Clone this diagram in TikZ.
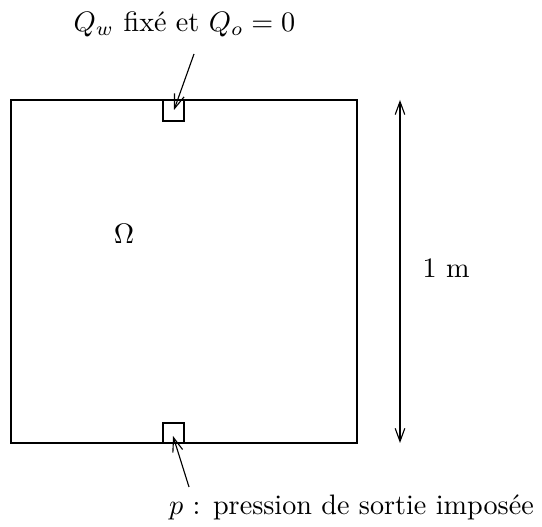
\documentclass[tikz,border=0pt]{standalone}
\usetikzlibrary{arrows.meta}
\begin{document}
\begin{tikzpicture}[x=0.355pt,y=-0.355pt,
  lbl/.style={inner sep=0pt},
  tipshape/.style={},
  ptr/.style={draw,thin,-{Straight Barb[length=5pt,width=3.6pt]}}]
\useasboundingbox (0,0) rectangle (542,527);
\draw[line width=0.7pt] (11,100) rectangle (357,443);
\draw[thin] (163,100) rectangle (184,121);
\draw[thin] (163,423) rectangle (184,443);
\coordinate (wtop) at (174,110);
\coordinate (wbot) at (173,436);
\node[lbl] (qlab) at (184.5,24) {$Q_w$ fixé et $Q_o=0$};
\node[lbl] (plab) at (351.5,507) {$p$ : pression de sortie imposée};
\coordinate (qt) at (194,54);
\coordinate (pt) at (189,487);
\draw[ptr] (qt) -- (wtop);
\draw[ptr] (pt) -- (wbot);
\node[lbl] (omega) at (124,234) {$\Omega$};
\coordinate (dtop) at (400,100);
\coordinate (dbot) at (400,443);
\draw[thin,{Straight Barb[length=4.6pt,width=3.4pt]}-{Straight Barb[length=4.6pt,width=3.4pt]}] (dtop) -- (dbot);
\node[lbl] (len) at (446,268) {1 m};
\end{tikzpicture}
\end{document}
